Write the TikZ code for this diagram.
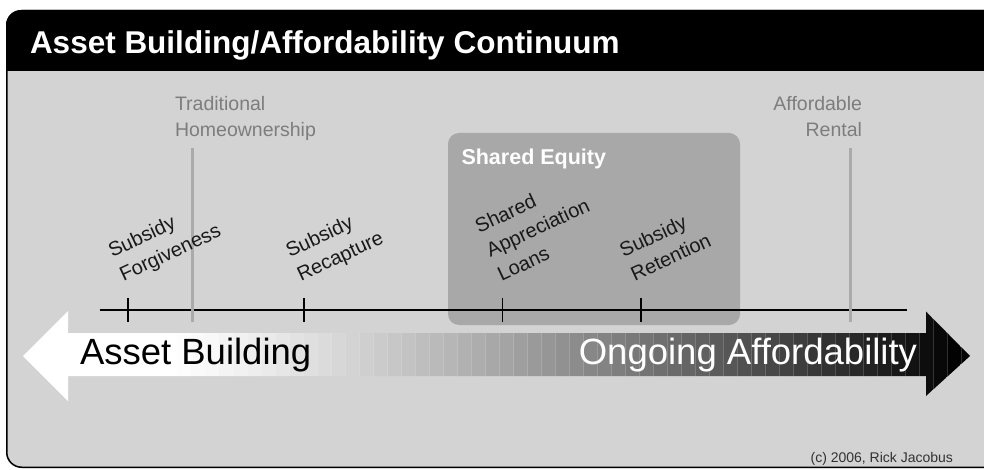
\documentclass[tikz,border=0pt]{standalone}
\usepackage{fontspec}
\setmainfont{Liberation Sans}
\definecolor{bggray}{RGB}{211,211,211}
\definecolor{boxgray}{RGB}{168,168,168}
\definecolor{linegray}{RGB}{170,170,170}
\definecolor{lblgray}{RGB}{125,125,125}
\definecolor{cpgray}{RGB}{50,50,50}
\tikzset{
  toplbl/.style={text=lblgray, font=\fontsize{19.5}{26}\selectfont},
  ticklbl/.style={text=black!90, font=\fontsize{20}{26.5}\selectfont, align=left, rotate=25, anchor=south west},
  axisline/.style={black, line width=1.3pt},
  tickmark/.style={black, line width=1.3pt},
  markline/.style={linegray, line width=3pt},
  sharedbox/.style={fill=boxgray, rounded corners=11pt, draw=none},
}
\begin{document}
\begin{tikzpicture}[x=1pt,y=-1pt, every node/.style={inner sep=0pt, outer sep=0pt}]
\useasboundingbox (0,0) rectangle (984,470);
\clip (0,0) rectangle (984,470);
% frame
\fill[bggray, rounded corners=15pt] (6,10) rectangle (1000,468);
\begin{scope}
  \clip[rounded corners=15pt] (6,10) rectangle (1000,468);
  \fill[black] (0,0) rectangle (1000,71);
\end{scope}
\draw[black, line width=1.5pt, rounded corners=15pt] (6.75,10.75) rectangle (1000,467.25);
\node[anchor=base west, text=white, font=\bfseries\fontsize{31.5}{36}\selectfont] (title) at (30,54) {Asset Building/Affordability Continuum};

% shared equity box
\node[sharedbox, minimum width=292pt, minimum height=192pt, anchor=north west] (shared) at (448,133) {};
\node[anchor=base west, text=white, font=\bfseries\fontsize{21.5}{26}\selectfont] (sharedlbl) at (461.5,165) {Shared Equity};

% axis and ticks
\coordinate (axL) at (99.5,310);
\coordinate (axR) at (907,310);
\draw[axisline] (axL) -- (axR);
\foreach \tx/\nm in {128/t1, 304/t2, 502.5/t3, 641/t4}{
  \coordinate (\nm top) at (\tx,298);
  \coordinate (\nm bot) at (\tx,322);
  \draw[tickmark] (\nm top) -- (\nm bot);
}
% marker lines
\coordinate (tradtop) at (192,148);
\coordinate (tradbot) at (192,322);
\coordinate (renttop) at (850,148);
\coordinate (rentbot) at (850,322);
\draw[markline] (tradtop) -- (tradbot);
\draw[markline] (renttop) -- (rentbot);

\node[toplbl, align=left, anchor=south west] (trad) at (175,141) {Traditional\\Homeownership};
\node[toplbl, align=right, anchor=south east] (rent) at (862,137) {Affordable\\Rental};

% rotated labels
\node[ticklbl] (forg) at (125.3,285.5) {Subsidy\\Forgiveness};
\node[ticklbl] (recap) at (302.8,285.5) {Subsidy\\Recapture};
\node[ticklbl] (sal) at (501.7,281.7) {Shared\\Appreciation\\Loans};
\node[ticklbl] (ret) at (635,281.7) {Subsidy\\Retention};

% big arrow
\def\arrowpath{(23,356) -- (68,311) -- (68,333) -- (926,333) -- (926,311.5) -- (970,356) -- (926,396) -- (926,376) -- (68,376) -- (68,401) -- cycle}
\begin{scope}
  \clip \arrowpath;
  \foreach \i in {0,...,68}{
    \pgfmathsetmacro\xz{23+14*\i}
    \pgfmathsetmacro\tval{max(0.0001,min(1,(\xz+7-170)/790))}
    \pgfmathsetmacro\pval{100*pow(\tval,1.2)}
    \fill[black!\pval] (\xz,300) rectangle (\xz+14.4,410);
    \ifdim\xz pt>230pt
      \draw[white, opacity=.18, line width=.6pt] (\xz,300) -- (\xz,410);
    \fi
  }
\end{scope}
\node[anchor=base west, text=black, font=\fontsize{36.5}{40}\selectfont] (ab) at (80,364.5) {Asset Building};
\node[anchor=base east, text=white, font=\fontsize{36.5}{40}\selectfont] (oa) at (917,364) {Ongoing Affordability};

\node[anchor=base east, text=cpgray, font=\fontsize{14}{16}\selectfont] (copy) at (953,462.5) {(c) 2006, Rick Jacobus};
\end{tikzpicture}
\end{document}
